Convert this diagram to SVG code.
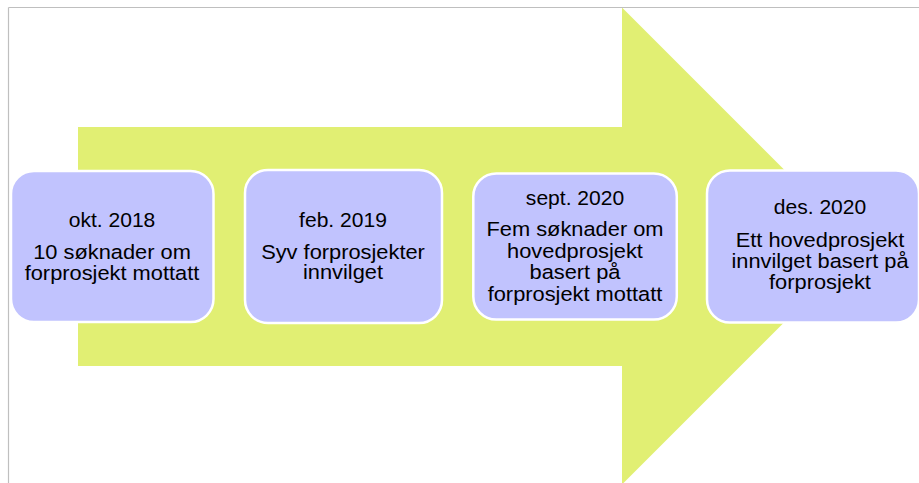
<svg xmlns="http://www.w3.org/2000/svg" width="919" height="483" viewBox="0 0 919 483">
<style>
.box{fill:#C1C3FE;stroke:#FFFFFF;stroke-width:2.5}
.t{font-family:"Liberation Sans",Arial,sans-serif;font-size:19.5px;fill:#000;text-anchor:middle}
.frame{stroke:#BFBFBF;stroke-width:1.2;fill:none}
</style>
<rect x="0" y="0" width="919" height="483" fill="#FFFFFF"/>
<g id="arrow">
<polygon points="78,127 622,127 622,7.5 860.5,246 622,484.5 622,366 78,366" fill="#E1EF73"/>
</g>
<g id="frame">
<line class="frame" x1="8.5" y1="7.5" x2="919" y2="7.5"/>
<line class="frame" x1="8.5" y1="7.5" x2="8.5" y2="483"/>
</g>
<g id="connectors"></g>
<g id="node1">
<rect class="box" x="11" y="171" width="202.5" height="151" rx="23"/>
<text class="t" transform="translate(112,227) scale(1.08,1)">okt. 2018</text>
<text class="t" transform="translate(112,259) scale(1.12,1)">10 søknader om</text>
<text class="t" transform="translate(112,279.5) scale(1.12,1)">forprosjekt mottatt</text>
</g>
<g id="node2">
<rect class="box" x="245" y="170" width="197" height="153" rx="23"/>
<text class="t" transform="translate(343,227) scale(1.08,1)">feb. 2019</text>
<text class="t" transform="translate(343,258.5) scale(1.12,1)">Syv forprosjekter</text>
<text class="t" transform="translate(343,279) scale(1.12,1)">innvilget</text>
</g>
<g id="node3">
<rect class="box" x="473.3" y="173.5" width="203.5" height="146" rx="23"/>
<text class="t" transform="translate(575,204.5) scale(1.08,1)">sept. 2020</text>
<text class="t" transform="translate(575,236) scale(1.12,1)">Fem søknader om</text>
<text class="t" transform="translate(575,257.5) scale(1.12,1)">hovedprosjekt</text>
<text class="t" transform="translate(575,279) scale(1.12,1)">basert på</text>
<text class="t" transform="translate(575,300.5) scale(1.12,1)">forprosjekt mottatt</text>
</g>
<g id="node4">
<rect class="box" x="707" y="170.5" width="212" height="152" rx="23"/>
<text class="t" transform="translate(820,213.5) scale(1.08,1)">des. 2020</text>
<text class="t" transform="translate(820,247) scale(1.12,1)">Ett hovedprosjekt</text>
<text class="t" transform="translate(820,268) scale(1.12,1)">innvilget basert på</text>
<text class="t" transform="translate(820,289) scale(1.12,1)">forprosjekt</text>
</g>
</svg>
